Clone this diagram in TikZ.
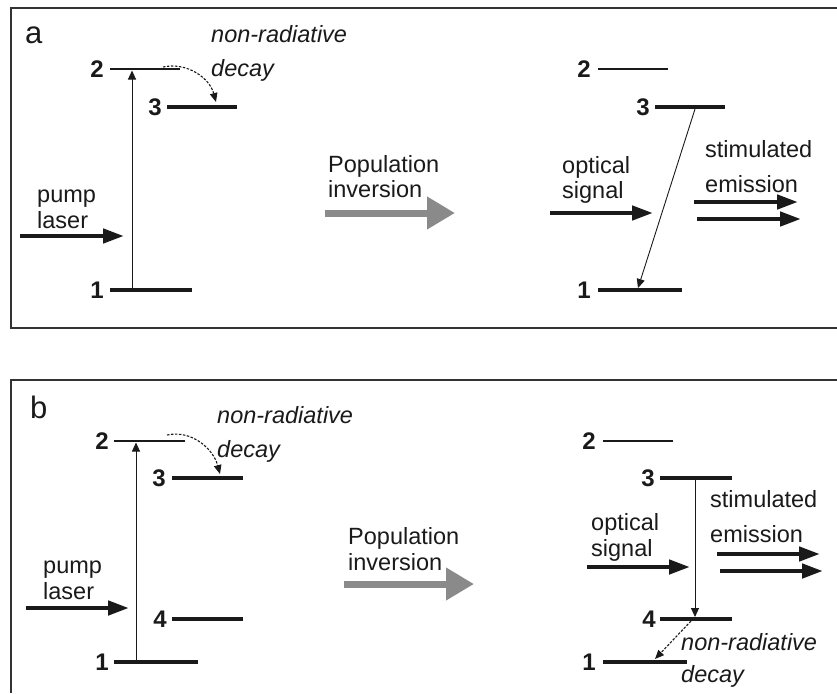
\documentclass[tikz,border=0pt]{standalone}
\usepackage{fontspec}
\setmainfont{Liberation Sans}
\usetikzlibrary{arrows.meta}
\definecolor{ink}{HTML}{1A1A1A}
\definecolor{framec}{HTML}{333333}
\definecolor{popgray}{HTML}{8A8A8A}
\tikzset{
 lev/.style={draw=ink, line width=3.6pt},
 levthin/.style={draw=ink, line width=2.7pt},
 num/.style={font=\fontsize{24}{28}\selectfont\bfseries, inner sep=0pt, anchor=east, text=ink},
 lbl/.style={font=\fontsize{23.5}{28}\selectfont, inner sep=0pt, anchor=base west, text=ink},
 ilbl/.style={font=\fontsize{23.5}{28}\selectfont\itshape, inner sep=0pt, anchor=base west, text=ink},
 panel/.style={font=\fontsize{31}{36}\selectfont, inner sep=0pt, anchor=base west, text=ink},
 beam/.style={draw=ink, line width=4.5pt, -{Triangle[length=21pt,width=14pt]}},
 trans/.style={draw=ink, line width=0.9pt, -{Triangle[length=9pt,width=8pt]}},
 nonrad/.style={draw=ink, line width=1.1pt, dash pattern=on 2.5pt off 1.5pt, -{Triangle[length=9pt,width=7.5pt]}},
 bigarrow/.style={draw=popgray, line width=7pt, -{Triangle[length=28pt,width=31pt]}},
 frameline/.style={draw=framec, line width=1.4pt},
}
\begin{document}
\begin{tikzpicture}[x=1pt,y=1pt]
\useasboundingbox (0,0) rectangle (837,-693);
% frames
\draw[frameline] (837,-8) -- (11,-8) -- (11,-328) -- (837,-328);
\draw[frameline] (837,-380) -- (11,-380) -- (11,-693);

%%%%% PANEL A
\node[panel] (la) at (25,-44) {a};
% left levels
\coordinate (a2L) at (110,-69);  \coordinate (a2R) at (180,-69);
\coordinate (a3L) at (167,-107); \coordinate (a3R) at (237,-107);
\coordinate (a1L) at (110,-290); \coordinate (a1R) at (192,-290);
\draw[levthin] (a2L) -- (a2R);
\draw[lev] (a3L) -- (a3R);
\draw[lev] (a1L) -- (a1R);
\node[num] (na2) at (104,-69) {2};
\node[num] (na3) at (162,-107) {3};
\node[num] (na1) at (104,-290) {1};
% pump transition
\coordinate (ap1) at (132,-289); \coordinate (ap2) at (132,-70.5);
\draw[trans] (ap1) -- (ap2);
% non-radiative decay
\coordinate (ad2) at (163,-67); \coordinate (ad3) at (216,-102);
\draw[nonrad] (ad2) to[out=12,in=105] (ad3);
\node[ilbl] (anr1) at (211,-42) {non-radiative};
\node[ilbl] (anr2) at (211,-76) {decay};
% pump laser
\node[lbl] (apump) at (37,-202) {pump};
\node[lbl] (alaser) at (37,-228) {laser};
\coordinate (apl0) at (20,-236); \coordinate (apl1) at (124,-236);
\draw[beam] (apl0) -- (apl1);
% population inversion
\node[lbl] (apop1) at (328,-172) {Population};
\node[lbl] (apop2) at (328,-197) {inversion};
\coordinate (ag0) at (325,-213); \coordinate (ag1) at (455,-213);
\draw[bigarrow] (ag0) -- (ag1);
% right levels
\coordinate (b2L) at (598,-69);  \coordinate (b2R) at (668,-69);
\coordinate (b3L) at (655,-107); \coordinate (b3R) at (725,-107);
\coordinate (b1L) at (598,-290); \coordinate (b1R) at (682,-290);
\draw[levthin] (b2L) -- (b2R);
\draw[lev] (b3L) -- (b3R);
\draw[lev] (b1L) -- (b1R);
\node[num] (nb2) at (591,-69) {2};
\node[num] (nb3) at (650,-107) {3};
\node[num] (nb1) at (591,-290) {1};
\coordinate (bt3) at (695,-109); \coordinate (bt1) at (638,-288);
\draw[trans] (bt3) -- (bt1);
\node[lbl] (aopt1) at (562,-173) {optical};
\node[lbl] (aopt2) at (562,-198) {signal};
\coordinate (as0) at (550,-213); \coordinate (as1) at (653,-213);
\draw[beam] (as0) -- (as1);
\node[lbl] (astim1) at (705,-157) {stimulated};
\node[lbl] (astim2) at (705,-192) {emission};
\coordinate (ae0) at (694,-202); \coordinate (ae1) at (798,-202);
\coordinate (ae2) at (697,-219); \coordinate (ae3) at (801,-219);
\draw[beam] (ae0) -- (ae1);
\draw[beam] (ae2) -- (ae3);

%%%%% PANEL B
\node[panel] (lb) at (30,-418) {b};
\coordinate (c2L) at (114,-441);  \coordinate (c2R) at (185,-441);
\coordinate (c3L) at (172,-478);  \coordinate (c3R) at (243,-478);
\coordinate (c4L) at (172,-619);  \coordinate (c4R) at (243,-619);
\coordinate (c1L) at (114,-662);  \coordinate (c1R) at (198,-662);
\draw[levthin] (c2L) -- (c2R);
\draw[lev] (c3L) -- (c3R);
\draw[lev] (c4L) -- (c4R);
\draw[lev] (c1L) -- (c1R);
\node[num] (nc2) at (109,-441) {2};
\node[num] (nc3) at (166,-478) {3};
\node[num] (nc4) at (167,-619) {4};
\node[num] (nc1) at (109,-662) {1};
\coordinate (cp1) at (136,-661); \coordinate (cp2) at (136,-442.5);
\draw[trans] (cp1) -- (cp2);
\coordinate (cd2) at (167,-435); \coordinate (cd3) at (220,-474);
\draw[nonrad] (cd2) to[out=12,in=105] (cd3);
\node[ilbl] (cnr1) at (217,-423) {non-radiative};
\node[ilbl] (cnr2) at (217,-457) {decay};
\node[lbl] (cpump) at (43,-573) {pump};
\node[lbl] (claser) at (43,-599) {laser};
\coordinate (cpl0) at (26,-608); \coordinate (cpl1) at (129,-608);
\draw[beam] (cpl0) -- (cpl1);
\node[lbl] (cpop1) at (348,-544) {Population};
\node[lbl] (cpop2) at (348,-570) {inversion};
\coordinate (cg0) at (344,-584); \coordinate (cg1) at (474,-584);
\draw[bigarrow] (cg0) -- (cg1);
% right levels
\coordinate (d2L) at (603,-441);  \coordinate (d2R) at (673,-441);
\coordinate (d3L) at (660,-478);  \coordinate (d3R) at (732,-478);
\coordinate (d4L) at (660,-619);  \coordinate (d4R) at (732,-619);
\coordinate (d1L) at (603,-662);  \coordinate (d1R) at (687,-662);
\draw[levthin] (d2L) -- (d2R);
\draw[lev] (d3L) -- (d3R);
\draw[lev] (d4L) -- (d4R);
\draw[lev] (d1L) -- (d1R);
\node[num] (nd2) at (596,-441) {2};
\node[num] (nd3) at (655,-478) {3};
\node[num] (nd4) at (656,-619) {4};
\node[num] (nd1) at (596,-662) {1};
\coordinate (dt3) at (695,-480); \coordinate (dt4) at (695,-617);
\draw[trans] (dt3) -- (dt4);
\coordinate (dd4) at (691,-621); \coordinate (dd1) at (655,-659);
\draw[nonrad] (dd4) -- (dd1);
\node[ilbl] (dnr1) at (681,-650) {non-radiative};
\node[ilbl] (dnr2) at (681,-682) {decay};
\node[lbl] (dopt1) at (591,-530) {optical};
\node[lbl] (dopt2) at (591,-556) {signal};
\coordinate (ds0) at (587,-567); \coordinate (ds1) at (690,-567);
\draw[beam] (ds0) -- (ds1);
\node[lbl] (dstim1) at (710,-507) {stimulated};
\node[lbl] (dstim2) at (710,-542) {emission};
\coordinate (de0) at (717,-554); \coordinate (de1) at (820,-554);
\coordinate (de2) at (720,-571); \coordinate (de3) at (823,-571);
\draw[beam] (de0) -- (de1);
\draw[beam] (de2) -- (de3);
\end{tikzpicture}
\end{document}
